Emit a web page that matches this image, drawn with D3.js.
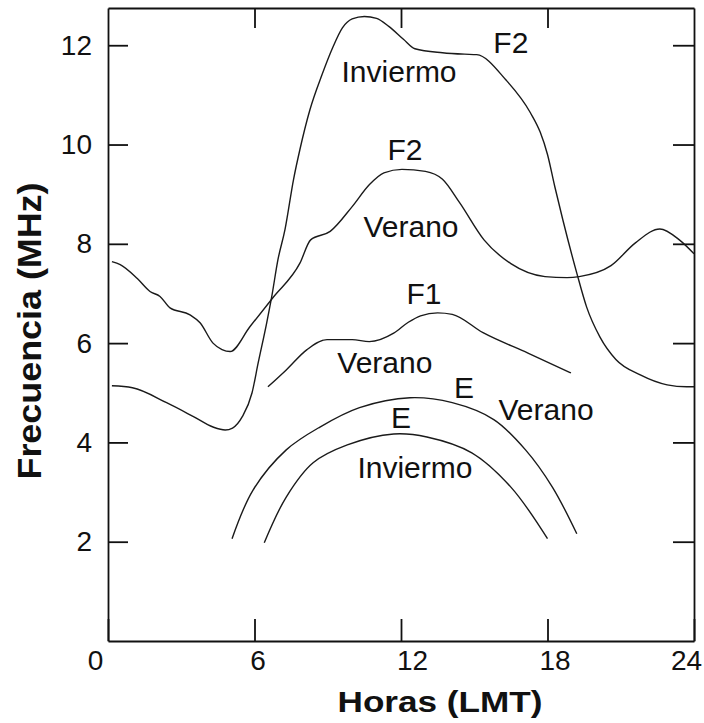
<!DOCTYPE html>
<html>
<head>
<meta charset="utf-8">
<script src="https://cdn.jsdelivr.net/npm/d3@7"></script>
<style>
  body { margin: 0; background: #fff; }
  svg text { font-family: "Liberation Sans", Arial, sans-serif; fill: #111; }
</style>
</head>
<body>
<div id="chart"></div>
<script>
// hour (LMT), frequency (MHz)
var f2Invierno = [[0.16,5.14],[1.0,5.1],[2.4,4.8],[3.5,4.52],[4.3,4.31],[4.8,4.25],[5.1,4.29],[5.5,4.52],[5.9,5.0],[6.15,5.6],[6.5,6.41],[6.7,6.92],[6.96,7.68],[7.25,8.29],[7.6,9.3],[7.86,9.9],[8.27,10.7],[8.76,11.4],[9.2,11.95],[9.6,12.35],[10.0,12.53],[10.5,12.58],[11.0,12.54],[11.5,12.38],[12.1,12.12],[12.57,11.93],[13.7,11.85],[14.6,11.82],[15.1,11.81],[16.3,11.3],[17.3,10.64],[17.7,10.25],[18.0,9.8],[18.3,9.15],[18.63,8.48],[19.2,7.41],[19.6,6.73],[20.15,6.12],[20.8,5.67],[21.8,5.36],[22.9,5.16],[23.7,5.12],[24,5.12]];
var f2Verano = [[0.16,7.64],[0.5,7.58],[1.2,7.3],[1.72,7.04],[2.13,6.94],[2.54,6.71],[3.36,6.57],[3.77,6.41],[4.3,6.0],[4.67,5.87],[5.0,5.83],[5.81,6.33],[6.76,6.92],[7.86,7.61],[8.3,8.08],[9.1,8.25],[10.0,8.75],[10.7,9.19],[11.3,9.43],[12.04,9.5],[13.0,9.46],[13.7,9.3],[14.4,8.83],[15.4,8.08],[16.5,7.6],[17.9,7.34],[18.8,7.32],[19.3,7.34],[20.6,7.56],[21.6,8.02],[22.6,8.3],[23.4,8.08],[24,7.8]];
var f1Verano = [[6.55,5.12],[7.3,5.46],[8.15,5.87],[8.97,6.07],[10.0,6.07],[10.7,6.03],[11.7,6.2],[12.3,6.42],[12.8,6.55],[13.5,6.61],[14.1,6.58],[15.36,6.21],[17.2,5.8],[18.96,5.4]];
var eVerano = [[5.08,2.06],[5.94,3.04],[7.3,3.85],[8.68,4.31],[10.3,4.7],[12.37,4.9],[14.1,4.8],[15.8,4.46],[17.1,3.85],[18.2,3.1],[19.2,2.16]];
var eInvierno = [[6.4,1.98],[7.3,2.9],[8.4,3.59],[9.8,3.95],[11.7,4.17],[13.06,4.11],[14.9,3.79],[16.5,3.1],[18.0,2.06]];

var xTicks = [0, 6, 12, 18, 24];
var yTicks = [2, 4, 6, 8, 10, 12];

// curve labels: text, hour, MHz (baseline)
var labels = [
  ["F2", 16.5, 11.84], ["Inviermo", 11.92, 11.26],
  ["F2", 12.16, 9.69], ["Verano", 12.41, 8.14],
  ["F1", 12.94, 6.79], ["Verano", 11.34, 5.40],
  ["E", 14.58, 4.89], ["Verano", 17.94, 4.45],
  ["E", 12.0, 4.29], ["Inviermo", 12.57, 3.28]
];

var svg = d3.select("#chart").append("svg")
  .attr("width", 704)
  .attr("height", 723);

var x = d3.scaleLinear().domain([0, 24]).range([108, 694]);
var y = d3.scaleLinear().domain([0, 12.75]).range([641, 8]);

// frame + ticks (all ticks point inward)
function styleAxis(g) {
  g.selectAll("path, line").attr("stroke", "#111").attr("stroke-width", 1.8);
  g.selectAll("text").style("font-size", "28px").attr("fill", "#111");
}

svg.append("g")
  .attr("transform", "translate(108,0)")
  .call(d3.axisLeft(y).tickValues(yTicks).tickSizeInner(-20).tickSizeOuter(0).tickPadding(16))
  .call(styleAxis);

svg.append("g")
  .attr("transform", "translate(694,0)")
  .call(d3.axisRight(y).tickValues(yTicks).tickSizeInner(-21).tickSizeOuter(0).tickFormat(""))
  .call(styleAxis);

var nudge = {0: -13, 6: 3, 12: 11, 18: 7, 24: -8};
svg.append("g")
  .attr("transform", "translate(0,641)")
  .call(d3.axisBottom(x).tickValues(xTicks).tickSizeInner(-22).tickSizeOuter(0).tickPadding(9))
  .call(styleAxis)
  .selectAll(".tick text").attr("dx", function(d) { return nudge[d]; });

svg.append("g")
  .attr("transform", "translate(0,8)")
  .call(d3.axisTop(x).tickValues([6, 12, 18]).tickSizeInner(-20).tickSizeOuter(0).tickFormat(""))
  .call(styleAxis);

// curves
var line = d3.line()
  .x(function(d) { return x(d[0]); })
  .y(function(d) { return y(d[1]); })
  .curve(d3.curveMonotoneX);

// the E-layer arcs are smooth, catmull-rom looks closer there
var arc = d3.line()
  .x(function(d) { return x(d[0]); })
  .y(function(d) { return y(d[1]); })
  .curve(d3.curveCatmullRom.alpha(0.5));

[[f2Invierno, line], [f2Verano, line], [f1Verano, line], [eVerano, arc], [eInvierno, arc]].forEach(function(s) {
  svg.append("path")
    .datum(s[0])
    .attr("d", s[1])
    .attr("fill", "none")
    .attr("stroke", "#1a1a1a")
    .attr("stroke-width", 1.4);
});

svg.selectAll(".lbl")
  .data(labels)
  .enter()
  .append("text")
  .attr("class", "lbl")
  .attr("x", function(d) { return x(d[1]); })
  .attr("y", function(d) { return y(d[2]); })
  .attr("text-anchor", "middle")
  .style("font-size", "30px")
  .text(function(d) { return d[0]; });

// axis titles
svg.append("text")
  .attr("x", 440)
  .attr("y", 712)
  .attr("text-anchor", "middle")
  .attr("textLength", 205)
  .attr("lengthAdjust", "spacingAndGlyphs")
  .style("font-size", "29px")
  .style("font-weight", "bold")
  .text("Horas (LMT)");

svg.append("text")
  .attr("transform", "translate(41,331) rotate(-90)")
  .attr("text-anchor", "middle")
  .attr("textLength", 297)
  .attr("lengthAdjust", "spacingAndGlyphs")
  .style("font-size", "33px")
  .style("font-weight", "bold")
  .text("Frecuencia (MHz)");
</script>
</body>
</html>
